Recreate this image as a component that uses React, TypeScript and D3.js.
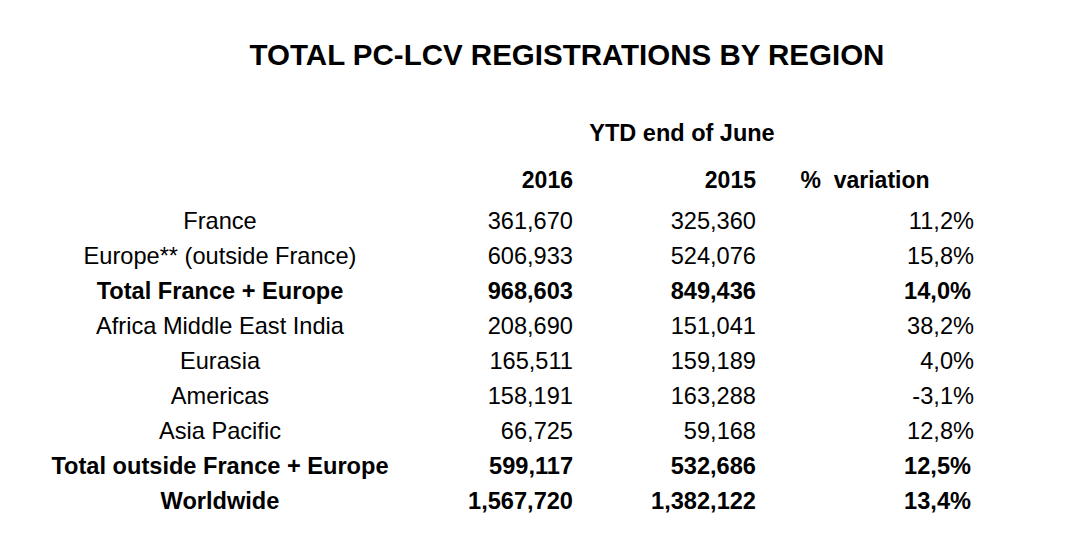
import React from "react";
import * as d3 from "d3";

const width = 1084;
const height = 550;

const title = "TOTAL PC-LCV REGISTRATIONS BY REGION";
const period = "YTD end of June";
const columns = ["2016", "2015", "% variation"];

const regions = [
  "France",
  "Europe** (outside France)",
  "Total France + Europe",
  "Africa Middle East India",
  "Eurasia",
  "Americas",
  "Asia Pacific",
  "Total outside France + Europe",
  "Worldwide",
];
const totals = ["Total France + Europe", "Total outside France + Europe", "Worldwide"];

const reg2016 = [361670, 606933, 968603, 208690, 165511, 158191, 66725, 599117, 1567720];
const reg2015 = [325360, 524076, 849436, 151041, 159189, 163288, 59168, 532686, 1382122];
const variation = [11.2, 15.8, 14.0, 38.2, 4.0, -3.1, 12.8, 12.5, 13.4];

const fmtInt = d3.format(",d");
// european decimal comma, plain hyphen for negatives
const fmtPct = (v: number) => d3.format(".1f")(v).replace(".", ",").replace("\u2212", "-") + "%";

const font = "'Liberation Sans', Arial, sans-serif";

export default function App() {
  const yScale = d3.scalePoint<string>().domain(regions).range([221, 501]);
  // column anchors: label centre, right edges of numeric columns
  const xScale = d3
    .scaleOrdinal<string, number>()
    .domain(["label", ...columns])
    .range([220, 573, 756, 974]);

  return (
    <svg
      width={width}
      height={height}
      style={{ position: "absolute", left: 0, top: 0, background: "#fff" }}
      fontFamily={font}
    >
      <rect width={width} height={height} fill="#fff" />
      <text x={567} y={55} dy="0.35em" textAnchor="middle" fontSize={29.5} fontWeight="bold" fill="#000">
        {title}
      </text>
      <text x={682} y={133} dy="0.35em" textAnchor="middle" fontSize={23.5} fontWeight="bold" fill="#000">
        {period}
      </text>
      {columns.map((c, i) => (
        <text
          key={c}
          x={i < 2 ? xScale(c) : 865}
          y={180}
          dy="0.35em"
          textAnchor={i < 2 ? "end" : "middle"}
          fontSize={23}
          fontWeight="bold"
          fill="#000"
          style={{ whiteSpace: "pre" }}
        >
          {c === "% variation" ? "%  variation" : c}
        </text>
      ))}
      {regions.map((r, i) => {
        const y = yScale(r) as number;
        const bold = totals.includes(r);
        const fw = bold ? "bold" : "normal";
        return (
          <g key={r} fontSize={23.6} fontWeight={fw} fill="#000">
            <text x={xScale("label")} y={y} dy="0.35em" textAnchor="middle">
              {r}
            </text>
            <text x={xScale("2016")} y={y} dy="0.35em" textAnchor="end">
              {fmtInt(reg2016[i])}
            </text>
            <text x={xScale("2015")} y={y} dy="0.35em" textAnchor="end">
              {fmtInt(reg2015[i])}
            </text>
            <text x={xScale("% variation") - (bold ? 3 : 0)} y={y} dy="0.35em" textAnchor="end">
              {fmtPct(variation[i])}
            </text>
          </g>
        );
      })}
    </svg>
  );
}
